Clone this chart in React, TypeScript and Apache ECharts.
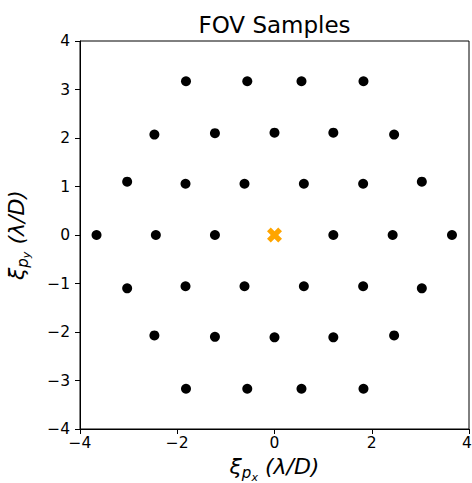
import React, { useEffect, useRef } from 'react';
import * as echarts from 'echarts';

// FOV sample positions (λ/D)
const sampleX = [
  -1.82, -0.56, 0.555, 1.83,
  -2.47, -1.225, 0, 1.21, 2.46,
  -3.03, -1.83, -0.617, 0.604, 1.823, 3.03,
  -3.66, -2.44, -1.225, 1.21, 2.43, 3.65,
  -3.03, -1.83, -0.617, 0.604, 1.823, 3.03,
  -2.47, -1.225, 0, 1.21, 2.46,
  -1.82, -0.56, 0.555, 1.83,
];
const sampleY = [
  3.17, 3.17, 3.17, 3.17,
  2.07, 2.1, 2.11, 2.11, 2.07,
  1.1, 1.057, 1.057, 1.057, 1.057, 1.1,
  0, 0, 0, 0, 0, 0,
  -1.1, -1.057, -1.057, -1.057, -1.057, -1.1,
  -2.07, -2.1, -2.11, -2.11, -2.07,
  -3.17, -3.17, -3.17, -3.17,
];
const centerX = [0];
const centerY = [0];

const axisMin = -4;
const axisMax = 4;
const xTickStep = 2;
const yTickStep = 1;

const TITLE = 'FOV Samples';
const FONT = 'DejaVu Sans';
const X_PATH = 'path://M2,8 L4,6 L6,8 L8,6 L6,4 L8,2 L6,0 L4,2 L2,0 L0,2 L2,4 L0,6 Z';

const fmt = (v: number) => (v < 0 ? '\u2212' + Math.abs(v) : String(v));
const fmtX = (v: number) => (v === axisMax ? '{r|' + fmt(v) + '}' : fmt(v));

const nameRich = {
  i: { fontFamily: FONT, fontStyle: 'italic', fontSize: 22, color: '#000', verticalAlign: 'bottom', padding: [0, 0, 5, 0], lineHeight: 22 },
  s: { fontFamily: FONT, fontStyle: 'italic', fontSize: 15, color: '#000', verticalAlign: 'bottom', padding: [0, 0, 2, 0], lineHeight: 15 },
  ss: { fontFamily: FONT, fontStyle: 'italic', fontSize: 11, color: '#000', verticalAlign: 'bottom', padding: [0, 0, 0, 0], lineHeight: 11 },
  n: { fontFamily: FONT, fontStyle: 'italic', fontSize: 22, color: '#000', verticalAlign: 'bottom', padding: [0, 0, 5, 0], lineHeight: 22 },
};

export default function App() {
  const ref = useRef<HTMLDivElement>(null);
  useEffect(() => {
    const chart = echarts.init(ref.current!, null, { renderer: 'svg' });
    const samples = sampleX.map((x, i) => [x, sampleY[i]]);
    const center = centerX.map((x, i) => [x, centerY[i]]);
    chart.setOption({
      animation: false,
      backgroundColor: '#fff',
      graphic: [
        {
          type: 'text',
          x: 274.5,
          y: 24.5,
          silent: true,
          style: {
            text: TITLE,
            fontFamily: FONT,
            fontSize: 23,
            fill: '#000',
            align: 'center',
            verticalAlign: 'middle',
          },
        },
      ],
      grid: {
        left: 80,
        right: 3,
        top: 41,
        bottom: 54,
        containLabel: false,
        outerBoundsMode: 'none',
        show: true,
        borderColor: '#000',
        borderWidth: 1,
        backgroundColor: 'transparent',
      },
      xAxis: {
        type: 'value',
        min: axisMin,
        max: axisMax,
        interval: xTickStep,
        splitLine: { show: false },
        axisLine: { show: true, onZero: false, lineStyle: { color: '#000', width: 1 } },
        axisTick: { show: true, inside: false, length: 5, lineStyle: { color: '#000', width: 1 } },
        axisLabel: {
          fontFamily: FONT,
          fontSize: 15.5,
          color: '#000',
          margin: 6,
          formatter: fmtX,
          rich: { r: { fontFamily: FONT, fontSize: 15.5, color: '#000', padding: [0, 4, 0, 0] } },
        },
        name: '{i|\u03BE}{s|p}{ss|x}{n| (\u03BB/D)}',
        nameLocation: 'middle',
        nameGap: 27,
        nameTextStyle: { rich: nameRich },
      },
      yAxis: {
        type: 'value',
        min: axisMin,
        max: axisMax,
        interval: yTickStep,
        splitLine: { show: false },
        axisLine: { show: true, onZero: false, lineStyle: { color: '#000', width: 1 } },
        axisTick: { show: true, inside: false, length: 5, lineStyle: { color: '#000', width: 1 } },
        axisLabel: { fontFamily: FONT, fontSize: 15.5, color: '#000', margin: 10, formatter: fmt },
        name: '{i|\u03BE}{s|p}{ss|y}{n| (\u03BB/D)}',
        nameLocation: 'middle',
        nameRotate: 90,
        nameGap: 48,
        nameTextStyle: { rich: nameRich },
      },
      series: [
        {
          type: 'scatter',
          data: samples,
          symbol: 'circle',
          symbolSize: 10,
          itemStyle: { color: '#000', opacity: 1 },
          silent: true,
        },
        {
          type: 'scatter',
          data: center,
          symbol: X_PATH,
          symbolSize: 15,
          itemStyle: { color: '#FFA500', opacity: 1 },
          silent: true,
          z: 3,
        },
      ],
    });
    return () => chart.dispose();
  }, []);
  return <div ref={ref} style={{ position: 'fixed', left: 0, top: 0, width: 472, height: 483 }} />;
}
